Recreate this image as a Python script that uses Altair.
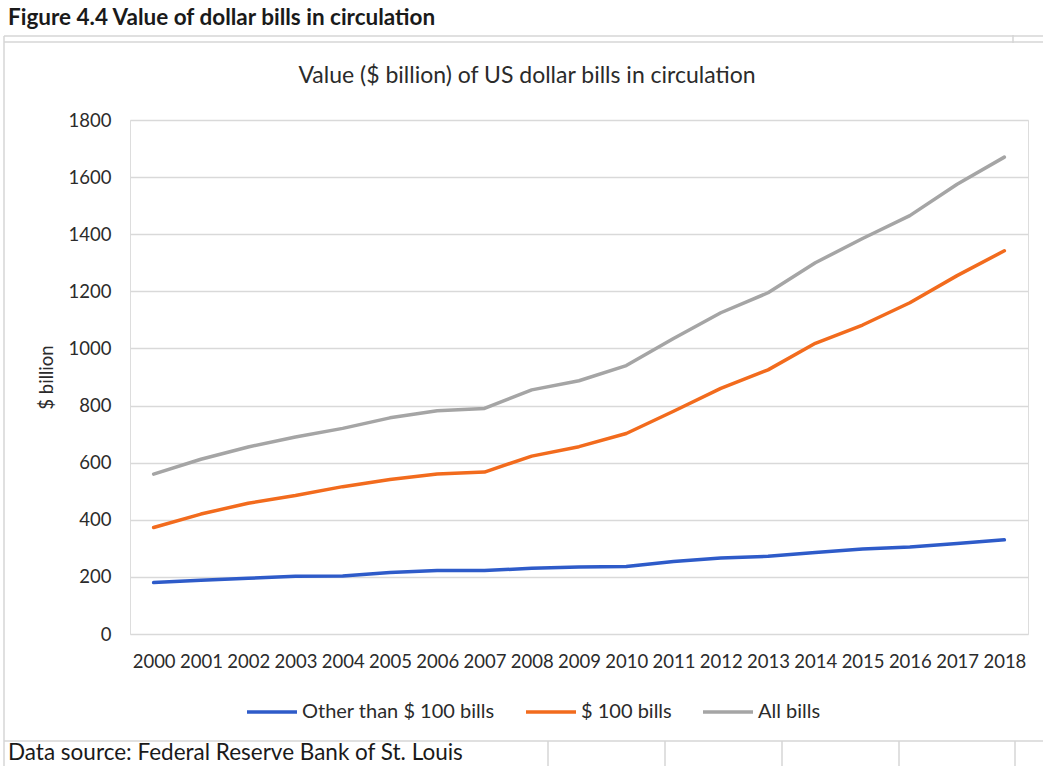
import altair as alt
import pandas as pd

# ---- data ----
years = ["2000", "2001", "2002", "2003", "2004", "2005", "2006", "2007", "2008", "2009",
         "2010", "2011", "2012", "2013", "2014", "2015", "2016", "2017", "2018"]
other_than_100 = [180, 188, 195, 202, 203, 215, 222, 222, 230, 235,
                  236, 254, 266, 272, 285, 298, 305, 317, 330]
bills_100 = [373, 420, 458, 485, 516, 541, 560, 567, 623, 656,
             702, 780, 860, 925, 1018, 1082, 1160, 1255, 1342]
all_bills = [560, 612, 655, 690, 720, 757, 782, 790, 855, 887,
             940, 1035, 1125, 1195, 1300, 1385, 1465, 1575, 1670]
series_names = ["Other than $ 100 bills", "$ 100 bills", "All bills"]
series_colors = ["#2E5BC9", "#F26B1D", "#A5A5A5"]
y_ticks = [0, 200, 400, 600, 800, 1000, 1200, 1400, 1600, 1800]

figure_title = "Figure 4.4 Value of dollar bills in circulation"
chart_title = "Value ($ billion) of US dollar bills in circulation"
y_title = "$ billion"
source_note = "Data source: Federal Reserve Bank of St. Louis"

rows = []
for name, vals in zip(series_names, [other_than_100, bills_100, all_bills]):
    for yr, v in zip(years, vals):
        rows.append({"year": yr, "value": v, "series": name})
df = pd.DataFrame(rows)

FONT = "Lato"
TXT = "#2b2b2b"
FS = 18.5
W, H = 898, 514

lines = alt.Chart(df).mark_line(strokeWidth=3.5, strokeCap="round", strokeJoin="round").encode(
    x=alt.X("year:O", sort=years,
            scale=alt.Scale(type="point", padding=0.5),
            axis=alt.Axis(title=None, labelAngle=0, ticks=False, domain=False, grid=False,
                          labelFontSize=FS, labelFont=FONT, labelColor=TXT, labelPadding=18)),
    y=alt.Y("value:Q", scale=alt.Scale(domain=[0, 1800], nice=False),
            axis=alt.Axis(values=y_ticks, format="d", title=y_title, grid=True,
                          gridColor="#D9D9D9", gridWidth=1.3, domain=False, ticks=False,
                          labelFontSize=FS, labelFont=FONT, labelColor=TXT, labelPadding=19,
                          titleFont=FONT, titleFontSize=FS, titleFontWeight="normal",
                          titleColor=TXT, titleX=-74, titleY=H / 2)),
    color=alt.Color("series:N",
                    scale=alt.Scale(domain=series_names, range=series_colors),
                    legend=alt.Legend(title=None, orient="none", direction="horizontal",
                                      legendX=115, legendY=565,
                                      symbolType="stroke", symbolSize=2500,
                                      symbolStrokeWidth=3.5, labelFontSize=20,
                                      labelFont=FONT, labelColor=TXT, labelLimit=0,
                                      labelOffset=3, columnPadding=24)),
    detail="series:N",
)


def one(label):
    return pd.DataFrame({"t": [label]})


def text(label, x, y, size, weight="normal", align="left", color="#1a1a1a"):
    return alt.Chart(one(label)).mark_text(
        align=align, baseline="middle", font=FONT, fontSize=size, fontWeight=weight, color=color
    ).encode(x=alt.value(x), y=alt.value(y), text="t:N")


def rule(x1, x2, y1, y2, color="#D6D6D6", w=1.5):
    return alt.Chart(one("r")).mark_rule(color=color, strokeWidth=w).encode(
        x=alt.value(x1), x2=alt.value(x2), y=alt.value(y1), y2=alt.value(y2))


decor = [
    rule(-126, 913, -84, -84),
    rule(-126, 913, -78, -78),
    rule(883, 883, -85, -77),
    rule(-126, -126, -84, 646),
    rule(-126, 913, 621, 621),
    rule(418, 418, 621, 646),
    rule(535, 535, 621, 646),
    rule(652, 652, 621, 646),
    rule(769, 769, 621, 646),
    rule(885, 885, 621, 646),
]

texts = [
    text(figure_title, -122, -102, 22.5, weight="bold"),
    text(chart_title, 397, -44, 23, align="center", color=TXT),
    text(source_note, -122, 633, 22.5),
]

chart = alt.layer(*decor, lines, *texts).properties(
    width=W, height=H,
    autosize=alt.AutoSizeParams(type="none"),
    padding={"left": 130, "top": 120, "right": 15, "bottom": 132},
).configure_view(stroke=None).configure(background="white")

chart.save("out.html", embed_options={"renderer": "svg", "actions": False})
